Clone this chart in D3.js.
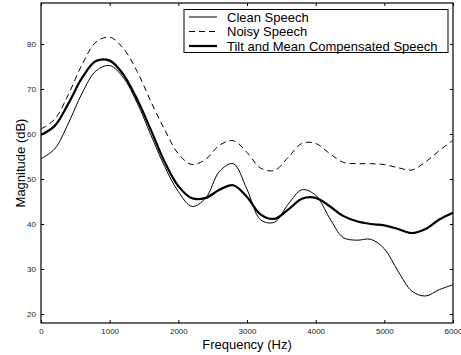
<!DOCTYPE html>
<html>
<head>
<meta charset="utf-8">
<script src="https://cdn.jsdelivr.net/npm/d3@7"></script>
<style>
  body { margin: 0; background: #fff; }
  svg { display: block; font-family: "Liberation Sans", Arial, sans-serif; }
</style>
</head>
<body>
<div id="chart"></div>
<script>
// frequency grid (Hz)
var freqs = [0, 200, 400, 600, 800, 1000, 1200, 1400, 1600, 1800, 2000, 2200, 2400, 2600, 2800, 3000,
  3200, 3400, 3600, 3800, 4000, 4200, 4400, 4600, 4800, 5000, 5200, 5400, 5600, 5800, 6000];

var cleanSpeech = [54.5, 56.7, 62.4, 69.1, 74.0, 75.2, 72.5, 66.9, 59.8, 52.8, 47.2, 43.9, 45.8, 51.7, 53.4, 47.7,
  40.9, 40.4, 44.4, 47.6, 46.4, 41.4, 37.0, 36.4, 36.6, 34.5, 29.5, 25.1, 24.0, 25.4, 26.5];

var noisySpeech = [61.1, 63.3, 68.8, 75.5, 80.4, 81.5, 79.0, 73.9, 67.2, 61.0, 55.6, 53.2, 54.4, 57.5, 58.5, 55.9,
  52.4, 51.9, 54.8, 57.9, 57.9, 55.7, 53.7, 53.4, 53.4, 53.2, 52.5, 52.0, 53.8, 56.3, 58.6];

var compSpeech = [59.8, 61.8, 66.8, 72.5, 76.2, 76.3, 73.2, 67.7, 60.9, 53.8, 48.4, 45.7, 45.8, 47.6, 48.6, 46.0,
  42.1, 41.15, 43.2, 45.6, 45.8, 44.0, 41.8, 40.6, 40.0, 39.7, 38.9, 38.0, 38.9, 41.0, 42.5];

var seriesNames = ["Clean Speech", "Noisy Speech", "Tilt and Mean Compensated Speech"];
var xTicks = [0, 1000, 2000, 3000, 4000, 5000, 6000];
var yTicks = [20, 30, 40, 50, 60, 70, 80];

var width = 461, height = 355;
var margin = {left: 41, right: 8, top: 3, bottom: 32};

var svg = d3.select("#chart").append("svg")
    .attr("width", width)
    .attr("height", height);

svg.append("rect").attr("width", width).attr("height", height).attr("fill", "#fff");

var x = d3.scaleLinear().domain([0, 6000]).range([margin.left, width - margin.right]);
var y = d3.scaleLinear().domain([18, 89.1]).range([height - margin.bottom, margin.top]);

var series = [
  {name: seriesNames[0], values: cleanSpeech, width: 1, dash: null},
  {name: seriesNames[1], values: noisySpeech, width: 1, dash: "6,4"},
  {name: seriesNames[2], values: compSpeech, width: 2.2, dash: null}
];

var line = d3.line()
    .x(function(d) { return x(d[0]); })
    .y(function(d) { return y(d[1]); })
    .curve(d3.curveCatmullRom.alpha(0.5));

svg.append("defs").append("clipPath").attr("id", "plotclip")
  .append("rect")
    .attr("x", margin.left).attr("y", margin.top)
    .attr("width", x.range()[1] - margin.left)
    .attr("height", y.range()[0] - margin.top);

svg.append("g")
    .attr("clip-path", "url(#plotclip)")
  .selectAll("path")
  .data(series)
  .enter().append("path")
    .attr("d", function(s) { return line(freqs.map(function(f, i) { return [f, s.values[i]]; })); })
    .attr("fill", "none")
    .attr("stroke", "#000")
    .attr("stroke-width", function(s) { return s.width; })
    .attr("stroke-dasharray", function(s) { return s.dash; });

// axes: ticks point inward, mirrored on all sides
var tickLen = 3;
var axisBottom = svg.append("g")
    .attr("transform", "translate(0," + y.range()[0] + ")")
    .call(d3.axisBottom(x).tickValues(xTicks).tickSize(-tickLen).tickPadding(5).tickFormat(d3.format("d")));
var axisTop = svg.append("g")
    .attr("transform", "translate(0," + margin.top + ")")
    .call(d3.axisTop(x).tickValues(xTicks).tickSize(-tickLen).tickFormat(""));
var axisLeft = svg.append("g")
    .attr("transform", "translate(" + margin.left + ",0)")
    .call(d3.axisLeft(y).tickValues(yTicks).tickSize(-tickLen).tickPadding(5));
var axisRight = svg.append("g")
    .attr("transform", "translate(" + x.range()[1] + ",0)")
    .call(d3.axisRight(y).tickValues(yTicks).tickSize(-tickLen).tickFormat(""));

[axisBottom, axisTop, axisLeft, axisRight].forEach(function(a) {
  a.select(".domain").remove();
  a.selectAll("line").attr("stroke", "#000");
  a.selectAll("text").attr("font-size", 8).attr("fill", "#222").attr("font-family", "Liberation Sans, Arial, sans-serif");
});

svg.append("rect")
    .attr("x", margin.left).attr("y", margin.top)
    .attr("width", x.range()[1] - margin.left)
    .attr("height", y.range()[0] - margin.top)
    .attr("fill", "none")
    .attr("stroke", "#000")
    .attr("stroke-width", 1.2);

svg.append("text")
    .attr("x", (x.range()[0] + x.range()[1]) / 2)
    .attr("y", 349)
    .attr("text-anchor", "middle")
    .attr("font-size", 13)
    .text("Frequency (Hz)");

svg.append("text")
    .attr("transform", "translate(25," + ((y.range()[0] + y.range()[1]) / 2) + ") rotate(-90)")
    .attr("text-anchor", "middle")
    .attr("font-size", 13)
    .text("Magnitude (dB)");

// legend
var legend = svg.append("g");
legend.append("rect")
    .attr("x", 184).attr("y", 9.5)
    .attr("width", 264).attr("height", 43)
    .attr("fill", "#fff")
    .attr("stroke", "#000")
    .attr("stroke-width", 1);

var items = legend.selectAll(".item")
  .data(series)
  .enter().append("g")
    .attr("class", "item")
    .attr("transform", function(d, i) { return "translate(0," + (17 + i * 14.5) + ")"; });

items.append("line")
    .attr("x1", 189).attr("x2", 217)
    .attr("stroke", "#000")
    .attr("stroke-width", function(s) { return s.width; })
    .attr("stroke-dasharray", function(s) { return s.dash; });

items.append("text")
    .attr("x", 227)
    .attr("dy", "0.36em")
    .attr("font-size", 13)
    .text(function(s) { return s.name; });
</script>
</body>
</html>
